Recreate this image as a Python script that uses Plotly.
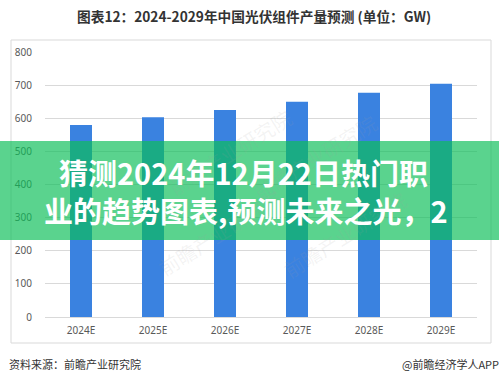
import plotly.graph_objects as go

categories = ["2024E", "2025E", "2026E", "2027E", "2028E", "2029E"]
production_gw = [580, 603, 625, 650, 677, 704]
y_ticks = [0, 100, 200, 300, 400, 500, 600, 700, 800]

title_text = "图表12：2024-2029年中国光伏组件产量预测 (单位：GW)"
source_text = "资料来源：前瞻产业研究院"
credit_text = "@前瞻经济学人APP"
banner_line1 = "猜测2024年12月22日热门职"
banner_line2 = "业的趋势图表,预测未来之光，2"
watermark_text = "前瞻产业研究院"

W, H = 499, 381
L, R, T, B = 45, 22, 52, 64
PW, PH = W - L - R, H - T - B


def px(x):
    return (x - L) / PW


def py(y):
    return (H - B - y) / PH


CJK = "Noto Sans CJK SC"

fig = go.Figure()
fig.add_trace(go.Bar(
    x=categories, y=production_gw,
    marker=dict(color="#3a82e0", line=dict(width=0)),
    hoverinfo="x+y",
))

shapes = [
    dict(type="rect", xref="paper", yref="paper",
         x0=px(11), x1=px(491), y0=py(343), y1=py(40),
         line=dict(color="#d9d9d9", width=1), fillcolor="rgba(0,0,0,0)", layer="below"),
    dict(type="rect", xref="paper", yref="paper",
         x0=px(-5), x1=px(505), y0=py(240), y1=py(141),
         line=dict(width=0), fillcolor="rgba(12,190,88,0.68)", layer="above"),
]

annotations = []
for (cx, cy) in [(160, 100), (385, 105), (150, 285), (415, 287)]:
    annotations.append(dict(
        x=px(cx), y=py(cy), xref="paper", yref="paper", showarrow=False,
        text=watermark_text, textangle=-32,
        font=dict(family=CJK, size=20, color="rgba(160,160,160,0.13)"),
    ))

annotations += [
    dict(x=px(75), y=py(16), xref="paper", yref="paper", showarrow=False,
         text=title_text, xanchor="left", yanchor="middle",
         font=dict(family=CJK, size=13.7, color="#333333", weight="bold")),
    dict(x=px(7), y=py(364), xref="paper", yref="paper", showarrow=False,
         text=source_text, xanchor="left", yanchor="middle",
         font=dict(family=CJK, size=11, color="#333333")),
    dict(x=px(400), y=py(364), xref="paper", yref="paper", showarrow=False,
         text=credit_text, xanchor="left", yanchor="middle",
         font=dict(family=CJK, size=11, color="#333333")),
    dict(x=px(57), y=py(172), xref="paper", yref="paper", showarrow=False,
         text=banner_line1, xanchor="left", yanchor="middle",
         font=dict(family=CJK, size=29, color="#ffffff", weight="bold")),
    dict(x=px(42), y=py(210), xref="paper", yref="paper", showarrow=False,
         text=banner_line2, xanchor="left", yanchor="middle",
         font=dict(family=CJK, size=29, color="#ffffff", weight="bold")),
]

fig.update_layout(
    width=W, height=H,
    margin=dict(l=L, r=R, t=T, b=B, pad=0),
    paper_bgcolor="#ffffff", plot_bgcolor="#ffffff",
    showlegend=False,
    bargap=1 - 22 / 72,
    shapes=shapes,
    annotations=annotations,
    xaxis=dict(
        type="category", range=[-0.5, 5.5],
        showgrid=False, showline=False, zeroline=False, ticks="",
        tickfont=dict(family="Noto Sans", size=10, color="#595959"),
        ticklabelstandoff=6,
    ),
    yaxis=dict(
        range=[0, 800], tickvals=y_ticks,
        showgrid=True, gridcolor="#d9d9d9", gridwidth=1,
        zeroline=True, zerolinecolor="#d9d9d9", zerolinewidth=1,
        showline=False, ticks="",
        tickfont=dict(family="Noto Sans", size=10, color="#595959"),
        ticklabelstandoff=12,
    ),
)

fig.write_html(
    "out.html",
    config={"displayModeBar": False},
    post_script="document.body.style.margin='0';document.body.style.overflow='hidden';",
)
